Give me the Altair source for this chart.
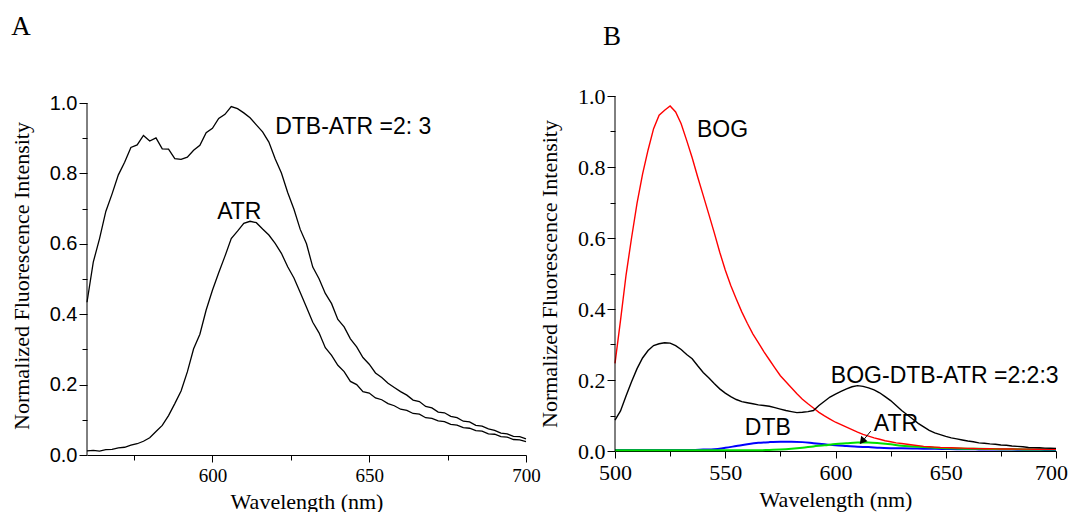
import altair as alt
import pandas as pd

# ---------------- data ----------------
left_wl = list(range(560, 701, 2))
left_dtb_atr = [0.434, 0.548, 0.615, 0.692, 0.742, 0.796, 0.832, 0.874, 0.881, 0.908,
                0.892, 0.901, 0.870, 0.869, 0.842, 0.840, 0.846, 0.866, 0.880, 0.916,
                0.928, 0.956, 0.968, 0.990, 0.984, 0.972, 0.958, 0.938, 0.918, 0.889,
                0.842, 0.801, 0.746, 0.698, 0.641, 0.600, 0.534, 0.501, 0.459, 0.430,
                0.385, 0.364, 0.330, 0.307, 0.277, 0.258, 0.233, 0.220, 0.204, 0.192,
                0.180, 0.170, 0.156, 0.152, 0.138, 0.134, 0.122, 0.120, 0.110, 0.106,
                0.096, 0.094, 0.084, 0.082, 0.074, 0.070, 0.062, 0.060, 0.053, 0.052,
                0.046]
left_atr = [0.012, 0.013, 0.011, 0.015, 0.016, 0.020, 0.022, 0.028, 0.032, 0.039,
            0.049, 0.067, 0.084, 0.112, 0.146, 0.182, 0.236, 0.302, 0.343, 0.412,
            0.468, 0.518, 0.565, 0.615, 0.636, 0.658, 0.664, 0.660, 0.642, 0.625,
            0.601, 0.573, 0.535, 0.503, 0.462, 0.420, 0.377, 0.347, 0.305, 0.283,
            0.255, 0.237, 0.209, 0.200, 0.180, 0.176, 0.162, 0.157, 0.146, 0.140,
            0.130, 0.127, 0.118, 0.116, 0.106, 0.104, 0.097, 0.095, 0.087, 0.085,
            0.078, 0.076, 0.069, 0.068, 0.060, 0.059, 0.052, 0.051, 0.044, 0.043,
            0.038]

right_wl = [500 + 2.5 * i for i in range(81)]
right_bog = [0.247, 0.368, 0.495, 0.600, 0.698, 0.780, 0.848, 0.908, 0.946, 0.960,
             0.972, 0.955, 0.922, 0.875, 0.826, 0.772, 0.720, 0.668, 0.615, 0.560,
             0.510, 0.466, 0.428, 0.392, 0.360, 0.330, 0.305, 0.280, 0.257, 0.234,
             0.212, 0.195, 0.178, 0.161, 0.146, 0.133, 0.121, 0.109, 0.099, 0.090,
             0.081, 0.074, 0.067, 0.060, 0.053, 0.047, 0.042, 0.037, 0.033, 0.029,
             0.026, 0.023, 0.021, 0.019, 0.017, 0.015, 0.013, 0.012, 0.011, 0.010,
             0.0095, 0.009, 0.0085, 0.008, 0.0075, 0.007, 0.0068, 0.0065, 0.0062, 0.006,
             0.0058, 0.0056, 0.0055, 0.0054, 0.0053, 0.0052, 0.0051, 0.005, 0.005, 0.005,
             0.005]
right_mix = [0.087, 0.113, 0.155, 0.195, 0.232, 0.262, 0.283, 0.297, 0.302, 0.305,
             0.304, 0.297, 0.286, 0.272, 0.260, 0.240, 0.221, 0.206, 0.190, 0.175,
             0.163, 0.153, 0.145, 0.139, 0.136, 0.133, 0.130, 0.128, 0.126, 0.122,
             0.118, 0.114, 0.111, 0.108, 0.109, 0.111, 0.114, 0.128, 0.140, 0.152,
             0.160, 0.168, 0.175, 0.181, 0.184, 0.182, 0.178, 0.172, 0.164, 0.153,
             0.142, 0.128, 0.114, 0.102, 0.090, 0.078, 0.068, 0.058, 0.051, 0.046,
             0.041, 0.037, 0.034, 0.031, 0.028, 0.026, 0.023, 0.022, 0.020, 0.019,
             0.017, 0.016, 0.014, 0.013, 0.012, 0.010, 0.0095, 0.009, 0.008, 0.0078,
             0.0075]
right_wl5 = list(range(500, 701, 5))
right_dtb = [0.003, 0.003, 0.003, 0.003, 0.003, 0.003, 0.003, 0.003, 0.004, 0.005,
             0.009, 0.014, 0.019, 0.023, 0.025, 0.026, 0.026, 0.025, 0.022, 0.019,
             0.016, 0.014, 0.012, 0.011, 0.009, 0.008, 0.0075, 0.007, 0.0065, 0.006,
             0.0055, 0.005, 0.005, 0.0045, 0.004, 0.004, 0.004, 0.0035, 0.0035, 0.003,
             0.003]
right_atr = [0.002, 0.002, 0.002, 0.002, 0.002, 0.002, 0.002, 0.002, 0.002, 0.002,
             0.002, 0.002, 0.002, 0.002, 0.003, 0.004, 0.006, 0.009, 0.013, 0.016,
             0.020, 0.022, 0.024, 0.024, 0.022, 0.019, 0.015, 0.013, 0.011, 0.009,
             0.008, 0.007, 0.0065, 0.006, 0.0055, 0.005, 0.0048, 0.0045, 0.0042, 0.004,
             0.004]

assert len(left_dtb_atr) == len(left_wl) and len(left_atr) == len(left_wl)
assert len(right_bog) == len(right_wl) and len(right_mix) == len(right_wl)
assert len(right_dtb) == len(right_wl5) and len(right_atr) == len(right_wl5)

left_labels = ["DTB-ATR =2: 3", "ATR"]
left_label_x = [620, 601.5]
left_label_y = [0.931, 0.689]

right_labels = ["BOG", "BOG-DTB-ATR =2:2:3", "DTB", "ATR"]
right_label_x = [537.2, 597.9, 558.9, 617.4]
right_label_y = [0.903, 0.211, 0.065, 0.076]

arrow_from = (616.0, 0.056)
arrow_to = (611.5, 0.022)

SERIF = "Liberation Serif, Times New Roman, serif"
SANS = "Liberation Sans, Arial, sans-serif"

# ---------------- frames ----------------
df_left = pd.concat([
    pd.DataFrame({"wl": left_wl, "v": left_dtb_atr, "s": "DTB-ATR"}),
    pd.DataFrame({"wl": left_wl, "v": left_atr, "s": "ATR"}),
])
df_right_fine = pd.concat([
    pd.DataFrame({"wl": right_wl, "v": right_bog, "s": "BOG"}),
    pd.DataFrame({"wl": right_wl, "v": right_mix, "s": "BOG-DTB-ATR"}),
])
df_right_coarse = pd.concat([
    pd.DataFrame({"wl": right_wl5, "v": right_dtb, "s": "DTB"}),
    pd.DataFrame({"wl": right_wl5, "v": right_atr, "s": "ATR"}),
])

even = "abs(round(datum.value*10)) % 2 == 0"


def y_axis(font, size):
    return alt.Axis(
        values=[round(0.1 * i, 1) for i in range(11)],
        labelExpr=f"{even} ? format(datum.value, '.1f') : ''",
        tickSize={"condition": {"test": even, "value": 8}, "value": 5},
        labelFont=font, labelFontSize=size, labelPadding=2, labelOverlap=False,
        labelFlush=False,
        title="Normalized Fluorescence Intensity", titleFont=SERIF, titleFontSize=22,
        titleFontWeight="normal", titlePadding=16, grid=False, domain=False,
    )


def x_axis(values, majors, size, last_shift=0):
    test = " || ".join(f"datum.value == {m}" for m in majors)
    return alt.Axis(
        values=values,
        labelExpr=f"({test}) ? datum.label : ''",
        tickSize={"condition": {"test": test, "value": 7}, "value": 5},
        labelOffset={"condition": {"test": "datum.value == 700", "value": last_shift}, "value": 0},
        labelFont=SERIF, labelFontSize=size, labelPadding=4, labelOverlap=False,
        labelFlush=False,
        title="Wavelength (nm)", titleFont=SERIF, titleFontSize=22,
        titleFontWeight="normal", titlePadding=6, grid=False,
    )


# ---------------- left panel ----------------
lx = alt.Scale(domain=[560, 700], nice=False, zero=False)
ly = alt.Scale(domain=[0, 1.02], nice=False)
lxa = x_axis([575, 600, 625, 650, 675, 700], [600, 650, 700], 19)
lya = y_axis(SANS, 20)

left_lines = alt.Chart(df_left).mark_line(color="black", strokeWidth=1.3).encode(
    x=alt.X("wl:Q", scale=lx, axis=lxa),
    y=alt.Y("v:Q", scale=ly, axis=lya),
    detail="s:N",
)
left_domain = alt.Chart(pd.DataFrame({"a": [0]})).mark_rule(color="black", strokeWidth=1).encode(
    x=alt.value(0), y=alt.Y(datum=0.0, axis=lya), y2=alt.Y2(datum=1.0)
)
left_text = alt.Chart(pd.DataFrame({"x": left_label_x, "y": left_label_y, "t": left_labels})).mark_text(
    align="left", baseline="middle", font=SANS, fontSize=23, color="black"
).encode(x=alt.X("x:Q", axis=lxa), y=alt.Y("y:Q", axis=lya), text="t:N")
left_tag = alt.Chart(pd.DataFrame({"t": ["A"]})).mark_text(
    align="center", baseline="middle", font=SERIF, fontSize=27, color="black"
).encode(x=alt.value(-66), y=alt.value(-69), text="t:N")

left = alt.layer(left_lines, left_domain, left_text, left_tag).properties(width=439, height=359)

# ---------------- right panel ----------------
rx = alt.Scale(domain=[500, 700], nice=False, zero=False)
ry = alt.Scale(domain=[0, 1.0], nice=False)
color_scale = alt.Scale(domain=["BOG", "BOG-DTB-ATR", "DTB", "ATR"],
                        range=["#ff0000", "#000000", "#0000ff", "#00e000"])

rxa = x_axis([500, 525, 550, 575, 600, 625, 650, 675, 700], [500, 550, 600, 650, 700], 22,
             last_shift=-5)
rya = y_axis(SERIF, 22)

right_coarse = alt.Chart(df_right_coarse).mark_line(strokeWidth=2, interpolate="monotone").encode(
    x=alt.X("wl:Q", scale=rx, axis=rxa),
    y=alt.Y("v:Q", scale=ry, axis=rya),
    color=alt.Color("s:N", scale=color_scale, legend=None),
)
right_fine = alt.Chart(df_right_fine).mark_line(strokeWidth=1.4).encode(
    x=alt.X("wl:Q", scale=rx, axis=rxa),
    y=alt.Y("v:Q", scale=ry, axis=rya),
    color=alt.Color("s:N", scale=color_scale, legend=None),
)
right_domain = alt.Chart(pd.DataFrame({"a": [0]})).mark_rule(color="black", strokeWidth=1).encode(
    x=alt.value(0), y=alt.Y(datum=0.0, axis=rya), y2=alt.Y2(datum=1.0)
)
right_text = alt.Chart(pd.DataFrame({"x": right_label_x, "y": right_label_y, "t": right_labels})).mark_text(
    align="left", baseline="middle", font=SANS, fontSize=23, color="black"
).encode(x=alt.X("x:Q", axis=rxa), y=alt.Y("y:Q", axis=rya), text="t:N")
arrow_df = pd.DataFrame({"x": [arrow_from[0]], "y": [arrow_from[1]],
                         "x2": [arrow_to[0]], "y2": [arrow_to[1]]})
arrow_line = alt.Chart(arrow_df).mark_rule(color="black", strokeWidth=1).encode(
    x=alt.X("x:Q", axis=rxa), y=alt.Y("y:Q", axis=rya), x2="x2:Q", y2="y2:Q"
)
arrow_head = alt.Chart(pd.DataFrame({"x": [arrow_to[0] + 0.9], "y": [arrow_to[1] + 0.008]})).mark_point(
    shape="triangle", angle=220, size=70, filled=True, color="black", opacity=1
).encode(x=alt.X("x:Q", axis=rxa), y=alt.Y("y:Q", axis=rya))
right_tag = alt.Chart(pd.DataFrame({"t": ["B"]})).mark_text(
    align="center", baseline="middle", font=SERIF, fontSize=27, color="black"
).encode(x=alt.value(-3), y=alt.value(-59), text="t:N")

right = alt.layer(right_coarse, right_fine, right_domain, right_text, arrow_line, arrow_head,
                  right_tag).properties(width=441, height=355)

chart = alt.hconcat(left, right, spacing=89, bounds="flush").properties(
    padding={"left": 2, "top": 5, "right": 0, "bottom": 0}
).configure(font=SERIF).configure_view(stroke=None).configure_axis(
    labelColor="black", tickColor="black", domainColor="black", titleColor="black",
    tickWidth=1, domainWidth=1, labelFlush=False,
)

chart.save("out.html", embed_options={"renderer": "svg", "actions": False})
